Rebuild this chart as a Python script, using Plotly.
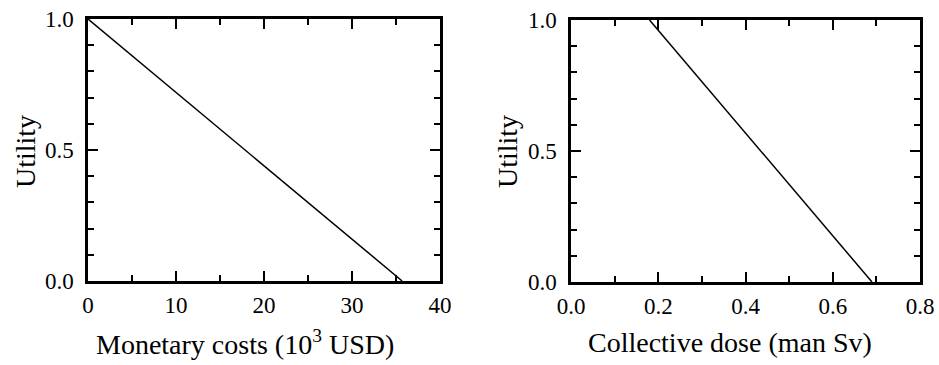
import plotly.graph_objects as go

# Data
cost_x = [0, 35.7]
cost_u = [1.0, 0.0]
dose_x = [0.18, 0.69]
dose_u = [1.0, 0.0]

W, H = 939, 365
FONT = "Liberation Serif"

fig = go.Figure()
fig.add_trace(go.Scatter(x=cost_x, y=cost_u, mode="lines",
                         line=dict(color="black", width=1.5),
                         xaxis="x", yaxis="y", showlegend=False))
fig.add_trace(go.Scatter(x=dose_x, y=dose_u, mode="lines",
                         line=dict(color="black", width=1.5),
                         xaxis="x2", yaxis="y2", showlegend=False))

def ax(domain, rng, dtick, minor_dtick, fmt, anchor, standoff):
    return dict(
        domain=domain, range=rng, anchor=anchor, automargin=False,
        showline=True, linecolor="black", linewidth=2.5, mirror="ticks",
        ticks="inside", ticklen=10, tickwidth=1.5, tickcolor="black",
        dtick=dtick, tick0=0, tickformat=fmt,
        minor=dict(ticks="inside", ticklen=6, tickwidth=1.5, tickcolor="black",
                   dtick=minor_dtick, tick0=0, showgrid=False),
        showgrid=False, zeroline=False,
        ticklabelstandoff=standoff,
        tickfont=dict(family=FONT, size=23, color="black"),
    )

def xd(a, b):
    return [a / W, b / W]

def yd(top, bot):
    return [1 - bot / H, 1 - top / H]

tfont = dict(family=FONT, size=28, color="black")
ann = [
    dict(text="Monetary costs (10<sup>3</sup> USD)", x=245 / W, y=1 - 342 / H,
         xref="paper", yref="paper", xanchor="center", yanchor="middle",
         showarrow=False, font=tfont),
    dict(text="Collective dose (man Sv)", x=730 / W, y=1 - 342 / H,
         xref="paper", yref="paper", xanchor="center", yanchor="middle",
         showarrow=False, font=tfont),
    dict(text="Utility", x=25 / W, y=1 - 152 / H, textangle=-90,
         xref="paper", yref="paper", xanchor="center", yanchor="middle",
         showarrow=False, font=tfont),
    dict(text="Utility", x=507 / W, y=1 - 152 / H, textangle=-90,
         xref="paper", yref="paper", xanchor="center", yanchor="middle",
         showarrow=False, font=tfont),
]

fig.update_layout(
    width=W, height=H,
    margin=dict(l=0, r=0, t=0, b=0),
    paper_bgcolor="white", plot_bgcolor="white",
    xaxis=ax(xd(88, 440), [0, 40], 10, 5, "d", "y", 2),
    yaxis=ax(yd(19, 281), [0, 1], 0.5, 0.1, ".1f", "x", 7),
    xaxis2=ax(xd(571, 920), [0, 0.8], 0.2, 0.1, ".1f", "y2", 2),
    yaxis2=ax(yd(20, 282), [0, 1], 0.5, 0.1, ".1f", "x2", 7),
    annotations=ann,
)

fig.write_html("out.html")
